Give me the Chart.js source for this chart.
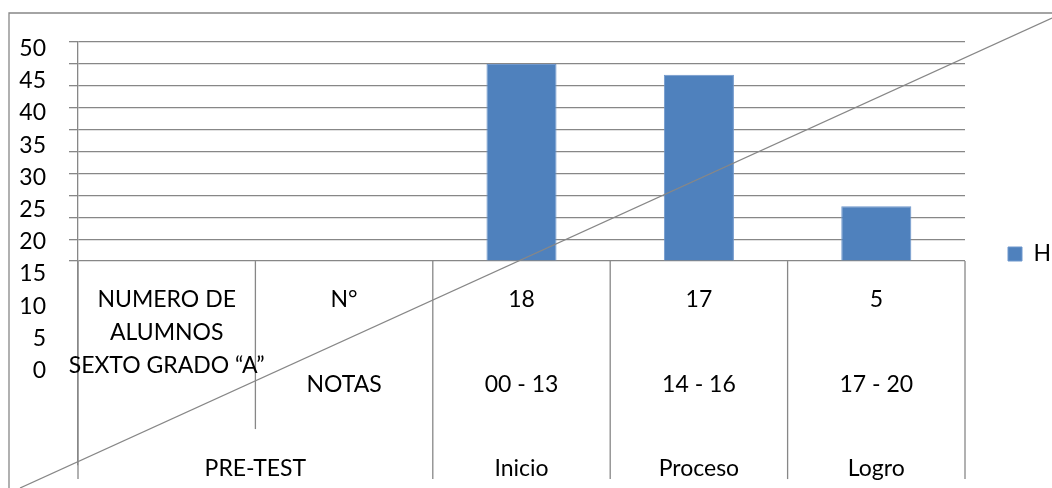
<!DOCTYPE html>
<html>
<head>
<meta charset="utf-8">
<script src="https://cdn.jsdelivr.net/npm/chart.js@4"></script>
<style>
  html, body { margin: 0; padding: 0; background: #fff; }
</style>
</head>
<body>
<canvas id="notasChart" width="1052" height="488"></canvas>
<script>
// columnas del grafico (las dos primeras son la cabecera de la tabla)
const columnas = ["", "", "Inicio", "Proceso", "Logro"];
const serieH = [null, null, 18, 17, 5];
const rangosNotas = ["00 - 13", "14 - 16", "17 - 20"];
const cabeceraAlumnos = ["NUMERO DE", "ALUMNOS", "SEXTO GRADO “A”"];
const cabeceraNumero = "N°";
const cabeceraNotas = "NOTAS";
const cabeceraTest = "PRE-TEST";
// etiquetas del eje izquierdo y lineas de la rejilla
const ticksEscala = [0, 5, 10, 15, 20, 25, 30, 35, 40, 45, 50];
const ticksRejilla = [0, 2, 4, 6, 8, 10, 12, 14, 16, 18, 20];

const gris = "#878787";
const fuente = "Lato";

const tablaPlugin = {
  id: "tabla",
  beforeDraw(chart) {
    const ctx = chart.ctx;
    ctx.save();
    ctx.strokeStyle = gris;
    ctx.lineWidth = 1.3;
    ctx.beginPath();
    ctx.moveTo(9, chart.height);
    ctx.lineTo(9, 13);
    ctx.lineTo(chart.width, 13);
    ctx.stroke();
    ctx.restore();
  },
  afterDraw(chart) {
    const ctx = chart.ctx;
    const x = chart.scales.x;
    const y = chart.scales.y;
    const n = chart.data.labels.length;
    const cero = y.getPixelForValue(0);
    const fondo = cero + 218;
    const ancho = x.width / n;

    ctx.save();
    ctx.strokeStyle = gris;
    ctx.lineWidth = 1.3;
    for (let i = 0; i <= n; i++) {
      const px = x.left + i * ancho;
      const fin = i === 1 ? cero + 168 : fondo;
      ctx.beginPath();
      ctx.moveTo(px, cero);
      ctx.lineTo(px, fin);
      ctx.stroke();
    }

    ctx.fillStyle = "#000";
    ctx.font = "23px " + fuente;
    ctx.textAlign = "center";
    ctx.textBaseline = "middle";
    const c0 = x.getPixelForValue(0);
    const c1 = x.getPixelForValue(1);
    cabeceraAlumnos.forEach((t, k) => ctx.fillText(t, c0, cero + 39 + k * 33));
    ctx.fillText(cabeceraNumero, c1, cero + 39);
    ctx.fillText(cabeceraNotas, c1, cero + 124);
    ctx.fillText(cabeceraTest, (c0 + c1) / 2, cero + 208);
    for (let i = 2; i < n; i++) {
      const cx = x.getPixelForValue(i);
      ctx.fillText(String(serieH[i]), cx, cero + 39);
      ctx.fillText(rangosNotas[i - 2], cx, cero + 124);
      ctx.fillText(columnas[i], cx, cero + 208);
    }

    // linea diagonal
    ctx.beginPath();
    ctx.moveTo(20, chart.height);
    ctx.lineTo(chart.width, 18);
    ctx.stroke();
    ctx.restore();
  }
};

Chart.defaults.font.family = fuente;
Chart.defaults.color = "#000";

new Chart(document.getElementById("notasChart"), {
  type: "bar",
  data: {
    labels: columnas,
    datasets: [
      {
        label: "H",
        data: serieH,
        backgroundColor: "#4F81BD",
        borderColor: "#6f97cc",
        borderWidth: 1,
        categoryPercentage: 1,
        barPercentage: 0.395,
      },
    ],
  },
  options: {
    responsive: false,
    animation: false,
    layout: {
      padding: { top: 42, left: 16, right: 0, bottom: 22 },
    },
    plugins: {
      tooltip: { enabled: false },
      legend: {
        position: "right",
        maxWidth: 87,
        labels: {
          boxWidth: 14,
          boxHeight: 14,
          padding: 43,
          font: { size: 23 },
        },
      },
    },
    scales: {
      x: {
        display: false,
      },
      y: {
        position: "left",
        weight: 0,
        min: -18.545,
        max: 20,
        afterBuildTicks: (scale) => {
          scale.ticks = ticksRejilla.map((v) => ({ value: v }));
        },
        afterFit: (scale) => {
          scale.width = 22;
        },
        ticks: { display: false },
        grid: { color: gris, lineWidth: 1.3, tickLength: 9 },
        border: { color: gris, width: 1.3 },
      },
      y2: {
        position: "left",
        weight: 1,
        min: -14.53,
        max: 51.0,
        afterBuildTicks: (scale) => {
          scale.ticks = ticksEscala.map((v) => ({ value: v }));
        },
        afterFit: (scale) => {
          scale.width = 40;
        },
        ticks: { padding: 10, font: { size: 23 }, color: "#000" },
        grid: { display: false, drawTicks: false },
        border: { display: false },
      },
    },
  },
  plugins: [tablaPlugin],
});
</script>
</body>
</html>
